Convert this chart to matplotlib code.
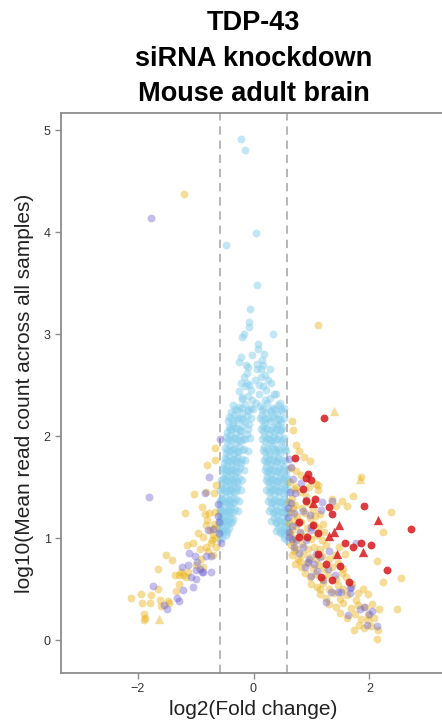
import numpy as np
import matplotlib
matplotlib.use("Agg")
import matplotlib.pyplot as plt

plt.rcParams['font.family'] = ['Liberation Sans', 'DejaVu Sans']

# points (log2 fold change, log10 mean count)
blue_pts = [
    (-0.21, 4.92), (-0.14, 4.81), (0.05, 3.99), (-0.47, 3.88), (0.06, 3.48), (-0.06, 3.25),
    (-0.08, 3.12), (-0.07, 3.07), (0.33, 3.0), (-0.16, 3.0), (-0.2, 2.97), (0.07, 2.91),
    (0.07, 2.86), (0.18, 2.81), (0.14, 2.75), (-0.21, 2.78), (-0.25, 2.73), (-0.13, 2.70),
    (-0.1, 2.68), (0.06, 2.71), (0.06, 2.66), (0.28, 2.66), (0.13, 2.66), (-0.17, 2.58),
    (0.13, 2.58), (-0.12, 2.52), (-0.14, 2.49), (-0.07, 2.5), (0.16, 2.49), (0.3, 2.52),
    (0.22, 2.45), (0.1, 2.42), (0.36, 2.42), (-0.2, 2.39), (-0.1, 2.4), (0.39, 2.42),
    (-0.19, 2.37), (-0.02, 2.36), (0.2, 2.36), (0.45, 2.33),
    (-0.12, 2.62), (0.2, 2.6), (0.03, 2.55), (0.25, 2.55), (-0.05, 2.45), (0.28, 2.38),
    (0.05, 2.33), (-0.25, 2.44), (0.16, 2.7), (-0.02, 2.8), (0.1, 2.5), (-0.22, 2.52),
    (-0.36, 2.31), (-0.25, 2.29), (-0.15, 2.32), (-0.05, 2.28), (0.12, 2.30), (0.24, 2.33),
    (0.33, 2.28), (0.42, 2.31), (0.53, 2.28),
    (-0.32, 2.27), (-0.2, 2.28), (-0.1, 2.26), (-0.01, 2.27), (0.17, 2.28), (0.28, 2.26),
    (0.37, 2.27), (0.5, 2.25),
    (-0.38, 2.24), (-0.28, 2.26), (-0.2, 2.23), (-0.09, 2.25), (0.14, 2.26), (0.22, 2.23),
    (0.31, 2.25), (0.4, 2.22), (0.47, 2.27),
    (-0.42, 2.19), (-0.33, 2.21), (-0.24, 2.18), (-0.12, 2.2), (0.15, 2.21), (0.25, 2.18),
    (0.35, 2.2), (0.45, 2.17),
    (-0.39, 2.17), (-0.29, 2.18), (-0.18, 2.17), (-0.05, 2.18), (0.11, 2.18), (0.2, 2.17),
    (0.32, 2.18), (0.42, 2.17), (0.52, 2.18),
    (-0.44, 2.15), (-0.35, 2.13), (-0.27, 2.16), (-0.15, 2.14), (-0.08, 2.12), (0.14, 2.16),
    (0.2, 2.13), (0.29, 2.15), (0.38, 2.12), (0.48, 2.14),
    (-0.43, 2.09), (-0.36, 2.11), (-0.28, 2.08), (-0.19, 2.1), (0.16, 2.1), (0.24, 2.07),
    (0.33, 2.09), (0.42, 2.11), (0.5, 2.08),
    (-0.41, 2.07), (-0.32, 2.08), (-0.23, 2.06), (-0.1, 2.07), (0.13, 2.07), (0.21, 2.08),
    (0.3, 2.06), (0.39, 2.07), (0.48, 2.06),
    (-0.46, 2.04), (-0.38, 2.06), (-0.3, 2.03), (-0.21, 2.05), (-0.12, 2.02), (0.17, 2.05),
    (0.27, 2.02), (0.36, 2.04), (0.46, 2.06),
    (-0.47, 1.99), (-0.4, 2.01), (-0.32, 1.98), (-0.24, 2.0), (-0.15, 1.97), (0.18, 2.0),
    (0.26, 1.97), (0.35, 1.99), (0.44, 2.01), (0.53, 1.98),
    (-0.44, 1.97), (-0.35, 1.98), (-0.27, 1.96), (-0.18, 1.97), (-0.06, 1.98), (0.15, 1.97),
    (0.23, 1.98), (0.32, 1.96), (0.41, 1.97), (0.5, 1.96),
    (-0.45, 1.94), (-0.38, 1.96), (-0.31, 1.93), (-0.22, 1.95), (0.19, 1.95), (0.28, 1.93),
    (0.37, 1.96), (0.47, 1.94),
    (-0.49, 1.89), (-0.41, 1.91), (-0.33, 1.88), (-0.25, 1.9), (-0.16, 1.88), (0.18, 1.9),
    (0.24, 1.88), (0.32, 1.91), (0.41, 1.89), (0.52, 1.9),
    (-0.46, 1.87), (-0.37, 1.88), (-0.29, 1.86), (-0.2, 1.87), (-0.1, 1.86), (0.16, 1.87),
    (0.27, 1.86), (0.35, 1.88), (0.44, 1.87), (0.54, 1.88),
    (-0.48, 1.84), (-0.4, 1.86), (-0.34, 1.83), (-0.27, 1.85), (0.2, 1.85), (0.29, 1.83),
    (0.38, 1.86), (0.46, 1.84), (0.56, 1.86),
    (-0.5, 1.79), (-0.43, 1.81), (-0.36, 1.78), (-0.28, 1.8), (-0.2, 1.78), (0.21, 1.8),
    (0.27, 1.78), (0.35, 1.81), (0.43, 1.79), (0.5, 1.77),
    (-0.47, 1.77), (-0.39, 1.76), (-0.32, 1.77), (-0.24, 1.76), (-0.14, 1.77), (0.18, 1.77),
    (0.25, 1.76), (0.33, 1.77), (0.41, 1.76), (0.55, 1.77),
    (-0.51, 1.74), (-0.44, 1.76), (-0.37, 1.73), (-0.3, 1.75), (-0.22, 1.74), (0.22, 1.75),
    (0.3, 1.73), (0.39, 1.76), (0.47, 1.74),
    (-0.52, 1.69), (-0.45, 1.71), (-0.38, 1.68), (-0.31, 1.7), (-0.24, 1.69), (0.21, 1.7),
    (0.28, 1.68), (0.36, 1.71), (0.44, 1.69), (0.53, 1.7),
    (-0.54, 1.67), (-0.47, 1.68), (-0.41, 1.66), (-0.34, 1.67), (-0.27, 1.66), (-0.17, 1.67),
    (0.19, 1.67), (0.26, 1.66), (0.34, 1.67), (0.42, 1.66), (0.5, 1.67), (0.58, 1.68),
    (-0.5, 1.64), (-0.44, 1.66), (-0.37, 1.63), (-0.3, 1.65), (0.23, 1.65), (0.31, 1.63),
    (0.4, 1.66), (0.48, 1.64), (0.56, 1.62),
    (-0.53, 1.59), (-0.46, 1.61), (-0.39, 1.58), (-0.32, 1.6), (-0.25, 1.59), (0.24, 1.6),
    (0.3, 1.58), (0.37, 1.61), (0.45, 1.59), (0.52, 1.6),
    (-0.56, 1.57), (-0.49, 1.58), (-0.43, 1.56), (-0.36, 1.57), (-0.29, 1.56), (-0.2, 1.57),
    (0.21, 1.57), (0.28, 1.56), (0.35, 1.57), (0.43, 1.56), (0.5, 1.57), (0.58, 1.58),
    (-0.54, 1.54), (-0.47, 1.56), (-0.4, 1.53), (-0.33, 1.55), (-0.27, 1.53), (0.25, 1.55),
    (0.33, 1.53), (0.41, 1.56), (0.49, 1.54), (0.57, 1.55),
    (-0.55, 1.49), (-0.48, 1.51), (-0.41, 1.48), (-0.35, 1.5), (-0.28, 1.49), (0.26, 1.5),
    (0.32, 1.48), (0.39, 1.51), (0.46, 1.49), (0.54, 1.5),
    (-0.57, 1.47), (-0.51, 1.48), (-0.44, 1.46), (-0.38, 1.47), (-0.31, 1.46), (-0.22, 1.47),
    (0.22, 1.47), (0.3, 1.46), (0.37, 1.47), (0.44, 1.46), (0.52, 1.47), (0.58, 1.48),
    (-0.54, 1.44), (-0.47, 1.46), (-0.4, 1.43), (-0.33, 1.45), (0.27, 1.45), (0.35, 1.43),
    (0.43, 1.46), (0.51, 1.44), (0.58, 1.45),
    (-0.56, 1.39), (-0.49, 1.41), (-0.42, 1.38), (-0.36, 1.4), (-0.3, 1.39), (0.28, 1.4),
    (0.36, 1.38), (0.44, 1.41), (0.52, 1.39),
    (-0.58, 1.37), (-0.52, 1.38), (-0.46, 1.36), (-0.4, 1.37), (-0.33, 1.36), (-0.25, 1.37),
    (0.25, 1.37), (0.33, 1.36), (0.4, 1.37), (0.48, 1.36), (0.56, 1.37),
    (-0.57, 1.34), (-0.5, 1.36), (-0.43, 1.33), (-0.37, 1.35), (0.3, 1.35), (0.37, 1.33),
    (0.45, 1.36), (0.53, 1.34), (0.58, 1.36),
    (-0.57, 1.29), (-0.51, 1.31), (-0.44, 1.28), (-0.38, 1.3), (-0.32, 1.29), (0.31, 1.3),
    (0.39, 1.28), (0.47, 1.31), (0.55, 1.29),
    (-0.58, 1.27), (-0.54, 1.28), (-0.48, 1.26), (-0.42, 1.27), (-0.35, 1.26), (-0.27, 1.27),
    (0.27, 1.27), (0.35, 1.26), (0.43, 1.27), (0.51, 1.26), (0.58, 1.27),
    (-0.58, 1.24), (-0.52, 1.26), (-0.46, 1.23), (-0.4, 1.25), (0.33, 1.25), (0.41, 1.23),
    (0.48, 1.26), (0.56, 1.24),
    (-0.58, 1.19), (-0.53, 1.21), (-0.47, 1.18), (-0.41, 1.2), (-0.35, 1.19), (0.35, 1.2),
    (0.42, 1.18), (0.5, 1.21), (0.57, 1.19),
    (-0.59, 1.17), (-0.55, 1.18), (-0.5, 1.16), (-0.44, 1.17), (-0.37, 1.16), (0.31, 1.17),
    (0.39, 1.16), (0.46, 1.17), (0.54, 1.16),
    (-0.58, 1.14), (-0.52, 1.16), (-0.46, 1.13), (-0.4, 1.15), (0.38, 1.15), (0.45, 1.13),
    (0.52, 1.16), (0.58, 1.14),
    (-0.59, 1.09), (-0.54, 1.11), (-0.48, 1.08), (-0.42, 1.1), (0.42, 1.1), (0.49, 1.08),
    (0.55, 1.11),
    (-0.58, 1.07), (-0.52, 1.08), (-0.45, 1.06), (0.38, 1.07), (0.45, 1.06), (0.52, 1.07),
    (0.58, 1.08),
    (-0.58, 1.04), (-0.53, 1.06), (-0.47, 1.03), (0.47, 1.05), (0.53, 1.03), (0.58, 1.06),
    (-0.58, 0.99), (-0.54, 1.0), (0.52, 1.0), (0.57, 0.98),
]

gold_pts = [
    # left side
    (-1.2, 4.38), (-0.67, 1.89), (-0.67, 1.77), (-0.8, 1.72), (-0.64, 1.52), (-1.03, 1.43),
    (-0.82, 1.45), (-0.68, 1.44), (-0.89, 1.31), (-1.19, 1.25), (-0.83, 1.24), (-0.76, 1.25),
    (-0.67, 1.26), (-0.68, 1.14), (-0.82, 1.13), (-0.95, 1.05), (-0.87, 1.01), (-0.7, 1.03),
    (-0.73, 0.95), (-1.15, 0.93), (-1.05, 0.95), (-0.93, 0.9), (-0.82, 0.92), (-1.51, 0.84),
    (-1.4, 0.79), (-1.65, 0.7), (-1.25, 0.67), (-1.13, 0.67), (-1.16, 0.62), (-1.28, 0.64),
    (-0.87, 0.72), (-1.29, 0.55), (-1.33, 0.48), (-1.65, 0.5), (-1.94, 0.45), (-2.12, 0.42),
    (-1.93, 0.37), (-1.76, 0.44), (-1.78, 0.37), (-1.62, 0.4), (-1.48, 0.39), (-1.45, 0.37),
    (-1.59, 0.34), (-1.88, 0.26), (-1.88, 0.2), (-1.87, 0.22), (-1.36, 0.64), (-1.22, 0.64),
    (-0.72, 0.98), (-0.66, 1.0), (-0.78, 0.88), (-0.7, 0.84), (-0.64, 0.92), (-0.75, 1.08),
    (-0.66, 1.1), (-0.9, 0.8), (-1.0, 0.74), (-0.8, 1.18),
    # right side, sparse
    (1.12, 3.09), (0.66, 2.15), (0.68, 2.06), (0.74, 1.92), (0.78, 1.86), (0.87, 1.8),
    (0.98, 1.76), (0.65, 1.69), (0.74, 1.66), (0.82, 1.62), (1.86, 1.6), (1.08, 1.53),
    (1.11, 1.47), (1.72, 1.42), (1.53, 1.37), (1.43, 1.32), (2.37, 1.26), (2.23, 1.06),
    (1.14, 1.24), (1.2, 1.14), (1.22, 1.06), (1.47, 0.92), (1.57, 0.85), (2.13, 0.78),
    (2.24, 0.57), (2.55, 0.61), (1.89, 0.5), (1.97, 0.45), (1.77, 0.4), (2.47, 0.31),
    (2.17, 0.31), (1.74, 0.1), (2.13, 0.01), (2.14, 0.1), (1.97, 0.2), (1.62, 1.32),
    (1.36, 1.39), (0.74, 1.5), (1.11, 1.52),
    # right side, dense band
    (0.63, 1.55), (0.7, 1.48), (0.8, 1.45), (0.9, 1.42), (0.66, 1.4), (0.95, 1.5),
    (0.62, 1.36), (0.72, 1.33), (0.84, 1.3), (0.96, 1.35), (1.02, 1.28), (0.68, 1.3),
    (0.64, 1.26), (0.75, 1.22), (0.88, 1.25), (0.97, 1.2), (1.06, 1.22), (0.7, 1.18),
    (0.62, 1.15), (0.73, 1.12), (0.82, 1.16), (0.93, 1.1), (1.05, 1.14), (1.12, 1.1),
    (0.66, 1.08), (0.63, 1.04), (0.72, 1.0), (0.8, 1.05), (0.9, 1.02), (1.0, 0.99),
    (1.1, 1.03), (1.18, 0.98), (0.68, 0.96), (0.64, 0.93), (0.74, 0.9), (0.83, 0.94),
    (0.94, 0.9), (1.04, 0.92), (1.15, 0.9), (1.25, 0.93), (0.7, 0.88), (0.67, 0.84),
    (0.76, 0.8), (0.86, 0.85), (0.97, 0.82), (1.07, 0.8), (1.18, 0.83), (1.3, 0.8),
    (1.4, 0.84), (0.8, 0.78), (0.72, 0.75), (0.82, 0.72), (0.92, 0.76), (1.02, 0.71),
    (1.13, 0.74), (1.22, 0.7), (1.35, 0.72), (1.45, 0.76), (1.55, 0.7), (0.88, 0.66),
    (0.98, 0.62), (1.08, 0.65), (1.18, 0.6), (1.28, 0.64), (1.42, 0.6), (1.52, 0.66),
    (1.6, 0.62), (1.0, 0.55), (1.1, 0.52), (1.2, 0.56), (1.3, 0.5), (1.45, 0.54),
    (1.55, 0.5), (1.7, 0.55), (1.15, 0.5), (1.15, 0.45), (1.25, 0.42), (1.38, 0.46),
    (1.5, 0.41), (1.62, 0.44), (1.8, 0.46), (1.3, 0.36), (1.42, 0.33), (1.55, 0.37),
    (1.68, 0.32), (1.8, 0.35), (1.93, 0.33), (2.05, 0.36), (1.5, 0.27), (1.62, 0.22),
    (1.75, 0.26), (1.86, 0.21), (1.98, 0.25), (2.08, 0.22), (1.82, 0.15), (1.9, 0.12),
    (2.02, 0.14),
]

purple_pts = [
    # left side
    (-1.76, 4.14), (-0.57, 1.97), (-0.76, 1.6), (-1.81, 1.41), (-0.83, 1.44), (-0.61, 1.34),
    (-0.59, 1.16), (-0.79, 1.08), (-0.7, 1.09), (-1.11, 0.86), (-1.01, 0.83), (-0.82, 0.83),
    (-0.73, 0.83), (-1.23, 0.72), (-1.13, 0.74), (-0.97, 0.77), (-0.93, 0.7), (-0.99, 0.69),
    (-0.89, 0.67), (-0.73, 0.67), (-1.07, 0.62), (-0.99, 0.6), (-1.74, 0.53), (-1.22, 0.49),
    (-1.05, 0.52), (-1.32, 0.42), (-1.28, 0.39), (-1.55, 0.35), (-1.5, 0.31), (-0.56, 0.95),
    (-0.6, 1.05), (-0.62, 1.22), (-0.87, 0.67),
    # right side
    (0.62, 1.78), (0.65, 1.7), (0.68, 1.58), (0.82, 1.54), (0.71, 1.44), (1.36, 1.37),
    (1.18, 1.36), (1.17, 1.28), (0.85, 1.27), (0.98, 1.23), (0.99, 1.11), (1.3, 0.88),
    (1.77, 0.95), (0.94, 0.77), (1.08, 0.85), (1.4, 0.64), (1.2, 0.59), (1.45, 0.47),
    (1.34, 0.47), (1.25, 0.38), (1.66, 0.51), (1.66, 0.46), (1.84, 0.31), (2.05, 0.29),
    (2.0, 0.26), (1.63, 0.25), (2.13, 0.14), (1.95, 0.15), (0.74, 0.98), (0.62, 1.01),
    (0.59, 1.21), (0.85, 0.92), (1.91, 0.33), (1.51, 0.47), (1.68, 0.52), (0.64, 1.35),
    (0.7, 1.25), (0.76, 1.15), (0.66, 1.12), (0.8, 1.06), (0.9, 0.98), (0.7, 0.92),
    (0.78, 0.86), (0.95, 0.8), (1.05, 0.75), (0.88, 0.72), (1.1, 0.68), (1.28, 0.7),
    (0.62, 1.06), (0.66, 0.99), (1.0, 1.08), (1.15, 0.82), (0.6, 1.3), (0.63, 1.45),
    (0.9, 1.38), (1.0, 0.63),
]

red_pts = [
    (1.21, 2.18), (0.71, 1.79), (0.94, 1.63), (0.91, 1.59), (0.99, 1.57), (0.85, 1.48),
    (1.06, 1.39), (0.9, 1.37), (1.3, 1.31), (1.36, 1.24), (1.91, 1.32), (2.72, 1.09),
    (0.79, 1.16), (1.03, 1.13), (1.12, 1.05), (1.57, 0.95), (1.71, 0.92), (1.86, 0.95),
    (2.03, 0.93), (2.3, 0.69), (1.25, 0.75), (1.49, 0.73), (1.64, 0.57), (1.36, 0.59),
    (1.17, 0.62), (0.79, 1.01), (0.92, 1.01), (1.11, 0.85),
]

red_tri_pts = [(1.03, 1.35), (1.47, 1.13), (1.38, 1.06), (1.31, 1.02), (2.14, 1.18),
               (1.89, 0.87), (1.44, 0.85)]
gold_tri_pts = [(1.38, 2.25), (1.83, 1.58), (-1.63, 0.21)]

fc_cut = 0.585

col_blue = '#87CEEB'
col_gold = '#E6AB02'
col_purple = '#6A5ACD'
col_red = '#D7191C'

fig = plt.figure(figsize=(4.42, 7.25), dpi=100)
ax = fig.add_axes([61 / 442, 52 / 725, 385 / 442, 560 / 725])

def pts(p):
    a = np.array(p)
    return a[:, 0], a[:, 1]

bx, by = pts(blue_pts)
ax.scatter(bx, by, s=32, color=col_blue, alpha=0.5, linewidths=0, zorder=2)
gx, gy = pts(gold_pts)
ax.scatter(gx, gy, s=32, color=col_gold, alpha=0.4, linewidths=0, zorder=3)
px, py = pts(purple_pts)
ax.scatter(px, py, s=32, color=col_purple, alpha=0.4, linewidths=0, zorder=3)
rx, ry = pts(red_pts)
ax.scatter(rx, ry, s=32, color=col_red, alpha=0.85, linewidths=0, zorder=4)
tx, ty = pts(red_tri_pts)
ax.scatter(tx, ty, s=45, marker='^', color=col_red, alpha=0.85, linewidths=0, zorder=4)
tx, ty = pts(gold_tri_pts)
ax.scatter(tx, ty, s=45, marker='^', color=col_gold, alpha=0.4, linewidths=0, zorder=4)

for v in (-fc_cut, fc_cut):
    ax.axvline(v, color='#aaaaaa', lw=1.2, ls=(0, (5, 3.5)), zorder=1)

ax.set_xlim(-3.32, 3.32)
ax.set_ylim(-0.32, 5.17)
ax.set_xticks([-2, 0, 2])
ax.set_xticklabels(['\u22122', '0', '2'])
ax.set_yticks([0, 1, 2, 3, 4, 5])

for s in ['left', 'bottom', 'top', 'right']:
    ax.spines[s].set_color('#8c8c8c')
    ax.spines[s].set_linewidth(1.3)
ax.tick_params(colors='#8c8c8c', labelcolor='#333333', labelsize=9, length=4, width=1)

ax.set_xlabel('log2(Fold change)', fontsize=15, color='#222222', labelpad=3.5)
ax.set_ylabel('log10(Mean read count across all samples)', fontsize=15,
              color='#222222', labelpad=7)

cx = (61 + 446) / 2 / 442
for txt, yy in [('TDP-43', 23), ('siRNA knockdown', 59), ('Mouse adult brain', 94)]:
    fig.text(cx, 1 - yy / 725, txt, ha='center', va='center', fontsize=19.5,
             fontweight='bold', color='black')

fig.savefig('out.png', dpi=100)
